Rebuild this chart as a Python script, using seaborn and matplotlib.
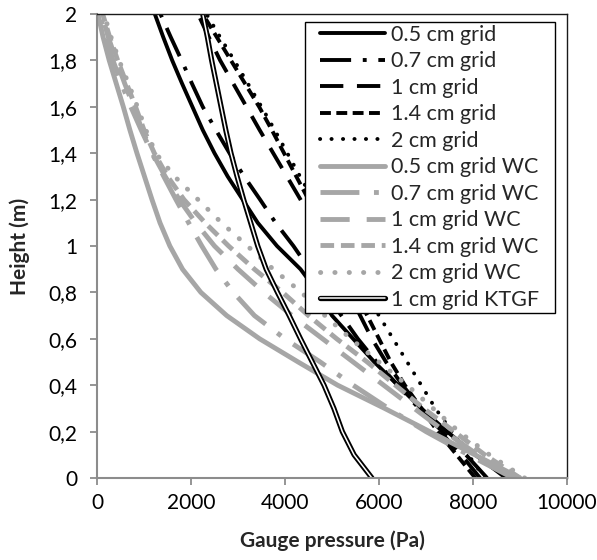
import matplotlib
matplotlib.use("Agg")
import matplotlib.pyplot as plt
import matplotlib.patheffects as pe
from matplotlib.patches import Rectangle
import pandas as pd
import seaborn as sns

# Height levels (m) shared by every profile
height = [0.0, 0.1, 0.2, 0.3, 0.4, 0.5, 0.6, 0.7, 0.8, 0.9, 1.0,
          1.1, 1.2, 1.3, 1.4, 1.5, 1.6, 1.7, 1.8, 1.9, 2.0]

# Gauge pressure (Pa) profiles, one per simulation
p_05 = [8700, 8050, 7450, 6900, 6400, 5900, 5450, 5000, 4700, 4330, 3830,
        3420, 3100, 2780, 2500, 2250, 2030, 1810, 1600, 1410, 1230]
p_07 = [8300, 7850, 7350, 6850, 6400, 5950, 5550, 5200, 4850, 4520, 4180,
        3800, 3470, 3130, 2820, 2530, 2250, 2020, 1800, 1570, 1350]
p_10 = [8150, 7750, 7300, 6900, 6500, 6150, 5850, 5600, 5350, 5100, 4850,
        4600, 4330, 4040, 3750, 3460, 3180, 2900, 2620, 2380, 2150]
p_14 = [8050, 7650, 7250, 6900, 6550, 6250, 6000, 5750, 5500, 5250, 5000,
        4750, 4500, 4240, 3980, 3720, 3450, 3150, 2850, 2550, 2250]
p_20 = [8250, 7900, 7550, 7200, 6900, 6600, 6300, 6000, 5700, 5420, 5150,
        4870, 4600, 4320, 4050, 3780, 3500, 3210, 2920, 2620, 2330]
p_05_wc = [9000, 8040, 7080, 6120, 5120, 4280, 3460, 2760, 2210, 1820, 1550,
           1340, 1170, 1010, 850, 700, 560, 410, 260, 130, 20]
p_07_wc = [8850, 7900, 7000, 6200, 5450, 4750, 4000, 3350, 2900, 2530, 2230,
           1950, 1680, 1420, 1170, 940, 720, 520, 340, 190, 60]
p_10_wc = [8900, 8100, 7400, 6750, 6100, 5450, 4800, 4150, 3550, 3000, 2500,
           2100, 1750, 1450, 1180, 960, 780, 590, 410, 240, 100]
p_14_wc = [9000, 8250, 7600, 6950, 6350, 5750, 5100, 4500, 3950, 3350, 2800,
           2300, 1850, 1500, 1220, 1000, 820, 630, 440, 270, 120]
p_20_wc = [9100, 8350, 7700, 7150, 6600, 6000, 5400, 4850, 4350, 3750, 3200,
           2650, 2150, 1650, 1250, 1040, 860, 670, 470, 300, 150]
p_10_ktgf = [5850, 5470, 5220, 5040, 4830, 4580, 4330, 4090, 3840, 3600, 3420,
             3270, 3120, 2980, 2850, 2740, 2640, 2540, 2440, 2350, 2250]

labels = ["0.5 cm grid", "0.7 cm grid", "1 cm grid", "1.4 cm grid", "2 cm grid",
          "0.5 cm grid WC", "0.7 cm grid WC", "1 cm grid WC", "1.4 cm grid WC", "2 cm grid WC",
          "1 cm grid KTGF"]
profiles = [p_05, p_07, p_10, p_14, p_20,
            p_05_wc, p_07_wc, p_10_wc, p_14_wc, p_20_wc, p_10_ktgf]

x_ticks = [0, 2000, 4000, 6000, 8000, 10000]
y_ticks = [0.0, 0.2, 0.4, 0.6, 0.8, 1.0, 1.2, 1.4, 1.6, 1.8, 2.0]
y_tick_labels = ["0", "0,2", "0,4", "0,6", "0,8", "1", "1,2", "1,4", "1,6", "1,8", "2"]

df = pd.concat(
    [pd.DataFrame({"pressure": p, "height": height, "series": lab}) for lab, p in zip(labels, profiles)],
    ignore_index=True,
)

sns.set_theme(style="white")
plt.rcParams["font.family"] = ["Lato", "DejaVu Sans"]

BLACK = "#000000"
GREY = "#a6a6a6"
LONG_DASH_DOT = (0, (8, 3, 1, 3))
LONG_DASH = (0, (6, 3.5))
DASH = (0, (2.8, 1.4))
DOT = (0, (0.05, 2.9))

styles = {
    "0.5 cm grid": dict(color=BLACK, lw=2.8, ls="-"),
    "0.7 cm grid": dict(color=BLACK, lw=2.8, ls=LONG_DASH_DOT),
    "1 cm grid": dict(color=BLACK, lw=2.8, ls=LONG_DASH),
    "1.4 cm grid": dict(color=BLACK, lw=2.8, ls=DASH),
    "2 cm grid": dict(color=BLACK, lw=2.8, ls=DOT),
    "0.5 cm grid WC": dict(color=GREY, lw=3.5, ls="-"),
    "0.7 cm grid WC": dict(color=GREY, lw=3.5, ls=LONG_DASH_DOT),
    "1 cm grid WC": dict(color=GREY, lw=3.5, ls=LONG_DASH),
    "1.4 cm grid WC": dict(color=GREY, lw=3.5, ls=DASH),
    "2 cm grid WC": dict(color=GREY, lw=3.5, ls=DOT),
    "1 cm grid KTGF": dict(color="white", lw=1.1, ls="-"),
}

fig = plt.figure(figsize=(5.97, 5.60), dpi=100)
ax = fig.add_axes([97 / 597, 1 - 478 / 560, 470 / 597, 464 / 560])

for lab in labels:
    st = styles[lab]
    sub = df[df["series"] == lab]
    sns.lineplot(data=sub, x="pressure", y="height", orient="y", sort=True,
                 estimator=None, ax=ax, color=st["color"], linewidth=st["lw"],
                 linestyle=st["ls"], label=lab)
    line = ax.lines[-1]
    line.set_dash_capstyle("round" if st["ls"] == DOT else "butt")
    line.set_solid_joinstyle("round")
    if lab.endswith("KTGF"):
        line.set_path_effects([pe.Stroke(linewidth=3.8, foreground="black"), pe.Normal()])

ax.set_xlim(0, 10000)
ax.set_ylim(0, 2)
ax.set_xticks(x_ticks)
ax.set_xticklabels([str(t) for t in x_ticks])
ax.set_yticks(y_ticks)
ax.set_yticklabels(y_tick_labels)
ax.tick_params(axis="both", which="major", direction="out", length=5, width=1.3,
               color="#8c8c8c", labelsize=15, labelcolor="black",
               bottom=True, left=True)
ax.tick_params(axis="x", pad=6)
ax.tick_params(axis="y", pad=9)

for side in ("left", "bottom"):
    ax.spines[side].set_color("#8c8c8c")
    ax.spines[side].set_linewidth(1.5)
for side in ("top", "right"):
    ax.spines[side].set_color("#1a1a1a")
    ax.spines[side].set_linewidth(1.0)

ax.set_xlabel("Gauge pressure (Pa)", fontsize=15, fontweight="bold")
ax.set_ylabel("Height (m)", fontsize=15, fontweight="bold")
ax.xaxis.set_label_coords(0.5, -(530 - 478) / 464)
ax.yaxis.set_label_coords(-(97 - 30) / 470, 0.5)

# Legend box: white panel with a thin black border, entries laid out inside it
panel = Rectangle((208 / 470, 165 / 464), 250 / 470, 291 / 464, transform=ax.transAxes,
                  facecolor="white", edgecolor="black", linewidth=1.0, zorder=4.8)
ax.add_patch(panel)
leg = ax.legend(loc="upper left", bbox_to_anchor=(223 / 470, 453 / 464), borderaxespad=0,
                frameon=False, fontsize=15.5, handlelength=3.0, handletextpad=0.28,
                labelspacing=0.30, borderpad=0)
leg.set_zorder(5)

fig.savefig("out.png", dpi=100)
